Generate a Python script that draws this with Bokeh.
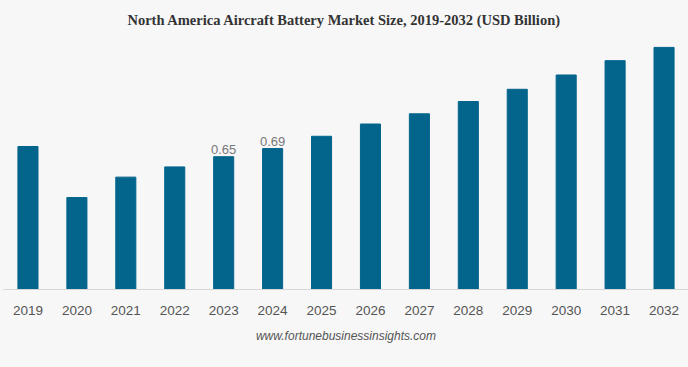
from bokeh.plotting import figure
from bokeh.models import FactorRange, Range1d, ColumnDataSource, LabelSet, Label
from bokeh.core.properties import value
from bokeh.embed import file_html
from bokeh.resources import INLINE

years = ["2019", "2020", "2021", "2022", "2023", "2024", "2025", "2026",
         "2027", "2028", "2029", "2030", "2031", "2032"]
values = [0.70, 0.45, 0.55, 0.60, 0.65, 0.69, 0.75, 0.81,
          0.86, 0.92, 0.98, 1.05, 1.12, 1.185]
label_years = ["2023", "2024"]
label_values = [0.65, 0.69]
label_texts = ["0.65", "0.69"]
title_text = "North America Aircraft Battery Market Size, 2019-2032 (USD Billion)"
source_text = "www.fortunebusinessinsights.com"

BG = "#f7f7f7"
W, H = 688, 360
BOTTOM = 71
YMAX = (H - BOTTOM) / 204.3
p = figure(x_range=FactorRange(*years), y_range=Range1d(0, YMAX),
           width=W, height=H, output_backend="svg", toolbar_location=None,
           background_fill_color=BG, border_fill_color=BG, outline_line_color=None,
           min_border_left=3, min_border_right=0, min_border_top=0, min_border_bottom=BOTTOM)

src = ColumnDataSource(dict(x=years, top=values))
p.vbar(x="x", top="top", width=0.41, source=src, color="#03648c")

lsrc = ColumnDataSource(dict(x=label_years, y=label_values, t=label_texts))
p.add_layout(LabelSet(x="x", y="y", text="t", source=lsrc, text_align="center",
                      text_baseline="bottom", y_offset=3,
                      text_font=value("Liberation Sans"), text_font_size=value("13px"),
                      text_color="#777777"))

p.add_layout(Label(x=len(years) / 2 - 0.03, y=YMAX, y_offset=-19, text=title_text,
                   text_align="center", text_baseline="middle",
                   text_font="Liberation Serif", text_font_size="14.5px",
                   text_font_style="bold", text_color="#333333"))

p.yaxis.visible = False
p.xgrid.grid_line_color = None
p.ygrid.grid_line_color = None
ax = p.xaxis[0]
ax.axis_line_color = "#d6d6d6"
ax.major_tick_line_color = None
ax.minor_tick_line_color = None
ax.major_label_text_font = "Liberation Sans"
ax.major_label_text_font_size = "13.5px"
ax.major_label_text_color = "#555555"
ax.major_label_standoff = 10
ax.axis_label = source_text
ax.axis_label_text_font = "Liberation Sans"
ax.axis_label_text_font_size = "12px"
ax.axis_label_text_font_style = "italic"
ax.axis_label_text_color = "#555555"
ax.axis_label_standoff = 11

html = file_html(p, INLINE)
html = html.replace("</head>", "<style>html,body{background:%s;}</style></head>" % BG, 1)
open("out.html", "w").write(html)
